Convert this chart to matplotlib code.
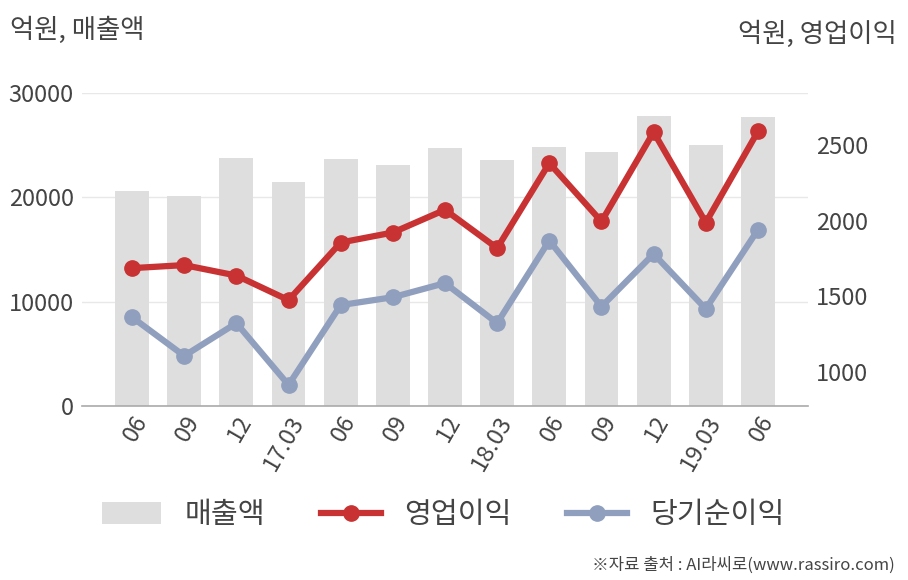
import matplotlib
matplotlib.use("Agg")
import matplotlib.pyplot as plt
from matplotlib.lines import Line2D
from matplotlib.patches import Patch

plt.rcParams['font.family'] = ['Noto Sans CJK KR', 'DejaVu Sans']

categories = ['06', '09', '12', '17.03', '06', '09', '12', '18.03', '06', '09', '12', '19.03', '06']
sales = [20600, 20100, 23800, 21500, 23700, 23100, 24700, 23600, 24800, 24300, 27800, 25000, 27700]
op_income = [1687, 1707, 1638, 1476, 1856, 1922, 2072, 1819, 2380, 1995, 2585, 1988, 2589]
net_income = [1363, 1108, 1324, 916, 1443, 1495, 1588, 1324, 1869, 1433, 1781, 1418, 1940]

bar_c = '#dedede'
red = '#c83232'
blue = '#8f9fbd'
txt = '#444444'

fig = plt.figure(figsize=(9.08, 5.8), dpi=100)
ax = fig.add_axes([82/908, 1-406/580, (808-82)/908, (406-93)/580])
x = list(range(len(categories)))
ax.bar(x, sales, width=0.65, color=bar_c, zorder=2)
ax.set_ylim(0, 30000)
ax.set_xlim(-0.96, 12.96)
ax.set_yticks([0, 10000, 20000, 30000])
ax.yaxis.grid(True, color='#e8e8e8', lw=1, zorder=0)
ax.set_axisbelow(True)
for s in ['top', 'right', 'left']:
    ax.spines[s].set_visible(False)
ax.spines['bottom'].set_color('#aaaaaa')
ax.spines['bottom'].set_linewidth(1.2)
ax.tick_params(axis='y', length=0, labelsize=17, labelcolor=txt, pad=6)
ax.tick_params(axis='x', length=0, labelsize=17, labelcolor=txt, pad=4)
ax.set_xticks(x)
ax.set_xticklabels(categories, rotation=60, ha='right', rotation_mode='anchor')

ax2 = ax.twinx()
ax2.set_ylim(777, 2843)
ax2.set_yticks([1000, 1500, 2000, 2500])
for s in ['top', 'right', 'left', 'bottom']:
    ax2.spines[s].set_visible(False)
ax2.tick_params(axis='y', length=0, labelsize=17, labelcolor=txt, pad=6)
ax2.plot(x, op_income, color=red, lw=4.5, marker='o', markersize=11, zorder=5)
ax2.plot(x, net_income, color=blue, lw=4.5, marker='o', markersize=11, zorder=4)

fig.text(10/908, 1-30/580, '억원, 매출액', fontsize=19, color=txt, va='center', ha='left')
fig.text(897/908, 1-34/580, '억원, 영업이익', fontsize=19, color=txt, va='center', ha='right')

handles = [Patch(facecolor=bar_c, edgecolor='none'),
           Line2D([0], [0], color=red, lw=4.5, marker='o', markersize=11),
           Line2D([0], [0], color=blue, lw=4.5, marker='o', markersize=11)]
fig.legend(handles, ['매출액', '영업이익', '당기순이익'], loc='center', bbox_to_anchor=(443/908, 1-515/580),
           ncol=3, frameon=False, fontsize=21, handlelength=2.05, handleheight=0.75, columnspacing=1.9,
           handletextpad=0.8, labelcolor=txt)

fig.text(895/908, 1-565/580, '※자료 출처 : AI라씨로(www.rassiro.com)', fontsize=12, color=txt, ha='right', va='center')

fig.savefig('out.png', dpi=100)
